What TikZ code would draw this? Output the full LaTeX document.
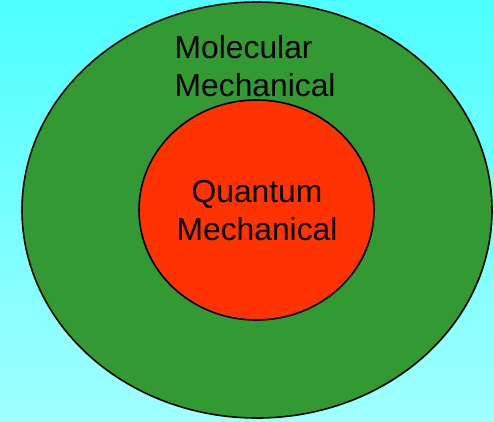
\documentclass[tikz,border=0pt]{standalone}
\usepackage{fontspec}
\setmainfont{Liberation Sans}
\definecolor{skytop}{RGB}{77,255,255}
\definecolor{skybot}{RGB}{160,255,255}
\definecolor{mmgreen}{RGB}{51,153,51}
\definecolor{qmred}{RGB}{255,51,0}
\usetikzlibrary{positioning}

\begin{document}
\begin{tikzpicture}[x=1pt, y=-1pt]
        \shade[top color=skytop, bottom color=skybot] (0,0) rectangle (494,421);
        \useasboundingbox (0,0) rectangle (494,421);
        \filldraw[mmgreen, draw=black, line width=1.6pt] (257,210) ellipse [x radius=235, y radius=208];
        \filldraw[qmred, draw=black, line width=1.6pt] (256.5,210) ellipse [x radius=117.5, y radius=110];
        \node[font=\fontsize{31.8}{38}\selectfont, text=black, align=left, anchor=north west, inner sep=0pt] (mmlabel) at (174.5,35) {Molecular\\Mechanical};
        \node[font=\fontsize{31.8}{38}\selectfont, text=black, align=center, anchor=north, inner sep=0pt] (qmlabel) at (257,180) {Quantum\\Mechanical};
      \end{tikzpicture}
\end{document}
